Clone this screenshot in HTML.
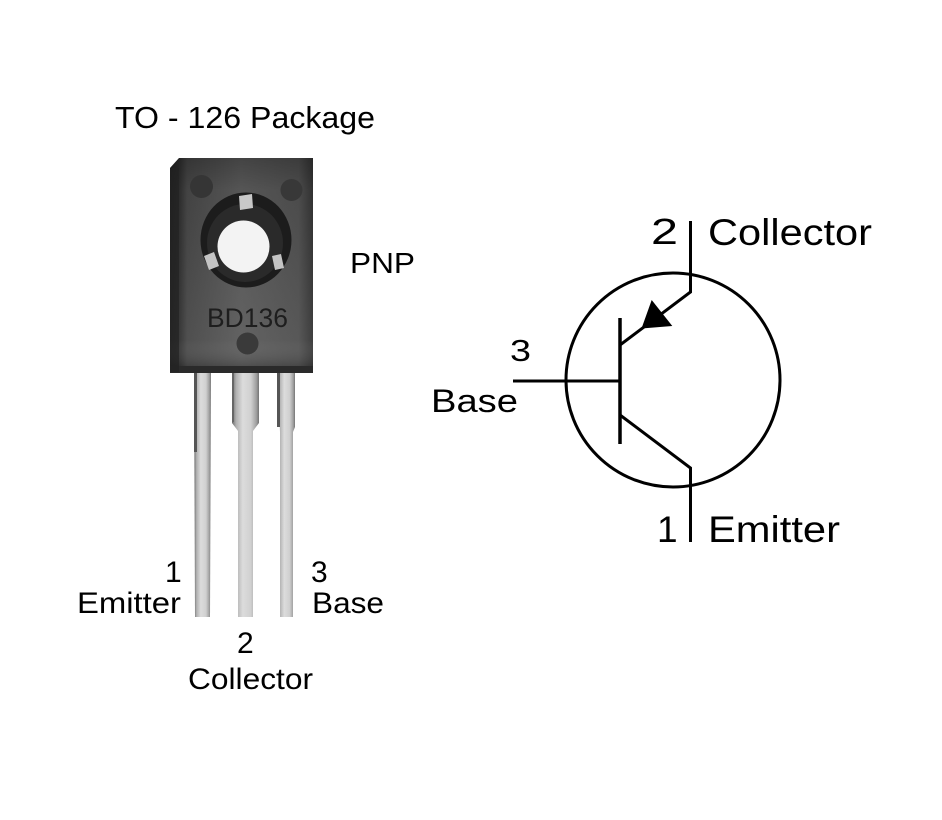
<!DOCTYPE html>
<html>
<head>
<meta charset="utf-8">
<style>
  html, body { margin: 0; padding: 0; background: #ffffff; }
  svg { display: block; }
  text { font-family: "Liberation Sans", "DejaVu Sans", sans-serif; fill: #000; }
</style>
</head>
<body>
<svg width="942" height="820" viewBox="0 0 942 820" xmlns="http://www.w3.org/2000/svg">
  <defs>
    <linearGradient id="bodyG" x1="0" y1="0" x2="1" y2="0">
      <stop offset="0" stop-color="#202020"/>
      <stop offset="0.06" stop-color="#2c2c2c"/>
      <stop offset="0.12" stop-color="#464646"/>
      <stop offset="0.5" stop-color="#5a5a5a"/>
      <stop offset="0.9" stop-color="#4f4f4f"/>
      <stop offset="1" stop-color="#343434"/>
    </linearGradient>
    <linearGradient id="bodyV" x1="0" y1="0" x2="0" y2="1">
      <stop offset="0" stop-color="#000" stop-opacity="0.25"/>
      <stop offset="0.15" stop-color="#000" stop-opacity="0.05"/>
      <stop offset="0.85" stop-color="#fff" stop-opacity="0.05"/>
      <stop offset="1" stop-color="#000" stop-opacity="0.3"/>
    </linearGradient>
    <linearGradient id="leadG" x1="0" y1="0" x2="1" y2="0">
      <stop offset="0" stop-color="#6a6a6a"/>
      <stop offset="0.15" stop-color="#b0b0b0"/>
      <stop offset="0.4" stop-color="#dcdcdc"/>
      <stop offset="0.7" stop-color="#d0d0d0"/>
      <stop offset="0.9" stop-color="#a0a0a0"/>
      <stop offset="1" stop-color="#747474"/>
    </linearGradient>
  </defs>

  <!-- Title -->
  <text x="115" y="128" font-size="31" textLength="260" lengthAdjust="spacingAndGlyphs">TO - 126 Package</text>

  <!-- PNP -->
  <text x="350" y="273" font-size="29" textLength="65" lengthAdjust="spacingAndGlyphs">PNP</text>

  <!-- Leads -->
  <path d="M194,372 L211,372 L210,617 L195,617 Z" fill="url(#leadG)"/>
  <path d="M232,372 L259,372 L259,423 L253,431 L253,617 L238,617 L238,431 L232,423 Z" fill="url(#leadG)"/>
  <path d="M277,372 L295,372 L295,427 L293,432 L293,617 L280,617 L280,432 Z" fill="url(#leadG)"/>
  <!-- lead shadow edges -->
  <rect x="194" y="372" width="3" height="80" fill="#555"/>
  <rect x="232" y="372" width="2" height="50" fill="#666"/>
  <rect x="277" y="372" width="3" height="55" fill="#555"/>

  <!-- Package body -->
  <path d="M179,158 L313,158 L313,372 L170,372 L170,168 Z" fill="url(#bodyG)"/>
  <path d="M179,158 L313,158 L313,372 L170,372 L170,168 Z" fill="url(#bodyV)"/>
  <rect x="170" y="366" width="143" height="7" fill="#2a2a2a"/>
  <rect x="170" y="168" width="9" height="204" fill="#222" opacity="0.7"/>

  <!-- mounting hole ring -->
  <ellipse cx="246" cy="240" rx="45.5" ry="47.5" fill="#1c1c1c"/>
  <ellipse cx="245" cy="243" rx="38" ry="39" fill="#2a2a2a"/>
  <circle cx="243.5" cy="246.5" r="26" fill="#f3f3f3"/>
  <!-- metal tabs -->
  <path d="M239,196 L252,194 L253,208 L240,210 Z" fill="#c8c8c8"/>
  <path d="M204,256 L214,252 L219,266 L209,270 Z" fill="#c4c4c4"/>
  <path d="M272,256 L281,254 L284,268 L275,270 Z" fill="#c4c4c4"/>

  <!-- small dimples -->
  <circle cx="201.5" cy="186.5" r="11.5" fill="#353535"/>
  <circle cx="291.5" cy="190" r="11" fill="#383838"/>
  <circle cx="247.5" cy="343.5" r="11" fill="#3a3a3a"/>

  <!-- BD136 -->
  <text x="207" y="327" font-size="27" textLength="81" lengthAdjust="spacingAndGlyphs" style="fill:#1e1e1e">BD136</text>

  <!-- Pin labels (left) -->
  <text x="165" y="582" font-size="30">1</text>
  <text x="77" y="613" font-size="30" textLength="104" lengthAdjust="spacingAndGlyphs">Emitter</text>
  <text x="311" y="582" font-size="30">3</text>
  <text x="312" y="613" font-size="30" textLength="72" lengthAdjust="spacingAndGlyphs">Base</text>
  <text x="237" y="653" font-size="30">2</text>
  <text x="188" y="689" font-size="30" textLength="125" lengthAdjust="spacingAndGlyphs">Collector</text>

  <!-- Schematic symbol -->
  <g stroke="#000" stroke-width="3" fill="none" stroke-linecap="butt" stroke-linejoin="miter">
    <circle cx="673" cy="380" r="107"/>
    <polyline points="690.5,221 690.5,292 620,345"/>
    <polyline points="620,415 690.5,468 690.5,542"/>
    <line x1="513" y1="381" x2="620" y2="381"/>
    <line x1="620" y1="318" x2="620" y2="444" stroke-width="3.5"/>
  </g>
  <!-- arrowhead -->
  <polygon points="641.5,328.5 651.7,300 672.3,326" fill="#000"/>

  <!-- Schematic labels -->
  <text x="651" y="244" font-size="36" textLength="27" lengthAdjust="spacingAndGlyphs">2</text>
  <text x="708" y="245" font-size="37" textLength="164" lengthAdjust="spacingAndGlyphs">Collector</text>
  <text x="510" y="361" font-size="31" textLength="21" lengthAdjust="spacingAndGlyphs">3</text>
  <text x="431" y="412" font-size="32" textLength="87" lengthAdjust="spacingAndGlyphs">Base</text>
  <text x="657" y="542" font-size="37">1</text>
  <text x="708" y="542" font-size="37" textLength="132" lengthAdjust="spacingAndGlyphs">Emitter</text>
</svg>
</body>
</html>
